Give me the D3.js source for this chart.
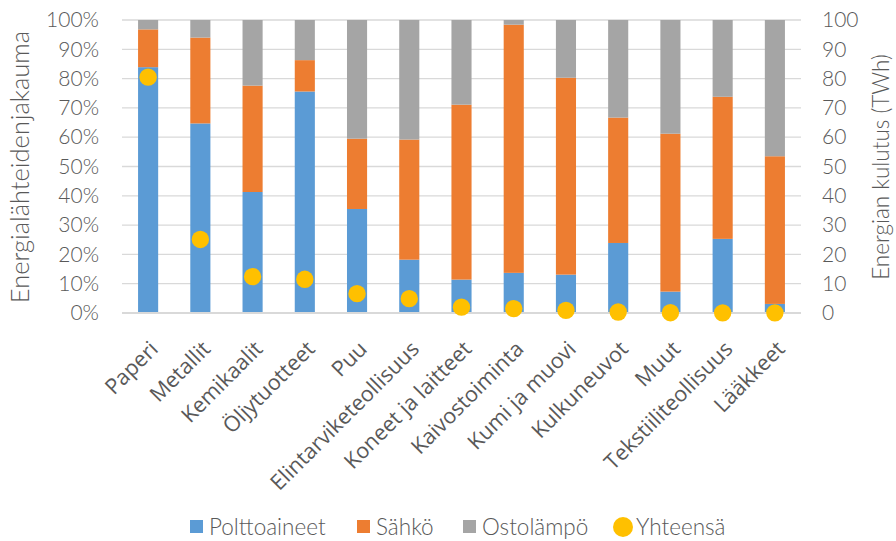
<!DOCTYPE html>
<html>
<head>
<meta charset="utf-8">
<script src="https://cdn.jsdelivr.net/npm/d3@7"></script>
<style>
  body { margin: 0; background: #fff; }
  svg text { font-family: Lato, "Open Sans", sans-serif; fill: #595959; font-weight: 300; }
  svg text.cat { font-family: "Open Sans", Lato, sans-serif; font-weight: 400; }
</style>
</head>
<body>
<script>
// categories and values
var categories = ["Paperi", "Metallit", "Kemikaalit", "Öljytuotteet", "Puu",
  "Elintarviketeollisuus", "Koneet ja laitteet", "Kaivostoiminta", "Kumi ja muovi",
  "Kulkuneuvot", "Muut", "Tekstiiliteollisuus", "Lääkkeet"];
// shares, percent
var polttoaineet = [83.9, 64.7, 41.3, 75.6, 35.5, 18.2, 11.4, 13.7, 13.1, 23.9, 7.3, 25.3, 3.1];
var sahko        = [12.9, 29.3, 36.3, 10.7, 24.0, 41.0, 59.7, 84.7, 67.2, 42.8, 53.9, 48.5, 50.4];
var ostolampo    = [3.2, 6.0, 22.4, 13.7, 40.5, 40.8, 28.9, 1.6, 19.7, 33.3, 38.8, 26.2, 46.5];
// total consumption, TWh
var yhteensa     = [80.5, 25.1, 12.4, 11.5, 6.6, 4.9, 2.0, 1.5, 0.9, 0.35, 0.1, 0.05, 0.05];

var leftTicks = [0, 10, 20, 30, 40, 50, 60, 70, 80, 90, 100];
var rightTicks = [0, 10, 20, 30, 40, 50, 60, 70, 80, 90, 100];

var seriesNames = ["Polttoaineet", "Sähkö", "Ostolämpö"];
var colors = ["#5B9BD5", "#ED7D31", "#A5A5A5"];
var dotColor = "#FFC000";

var W = 896, H = 541;
var plot = {left: 122, right: 801, top: 20, bottom: 313};

var svg = d3.select("body").append("svg")
    .attr("width", W)
    .attr("height", H);

var x = d3.scaleBand()
    .domain(categories)
    .range([plot.left, plot.right])
    .paddingInner(0.615)
    .paddingOuter(0.3075);

var yPct = d3.scaleLinear().domain([0, 100]).range([plot.bottom, plot.top]);
var yTwh = d3.scaleLinear().domain([0, 100]).range([plot.bottom, plot.top]);

// gridlines
svg.append("g").selectAll("line")
    .data(leftTicks.filter(function(d) { return d > 0; }))
    .enter().append("line")
    .attr("x1", plot.left).attr("x2", plot.right)
    .attr("y1", function(d) { return yPct(d); })
    .attr("y2", function(d) { return yPct(d); })
    .attr("stroke", "#D9D9D9")
    .attr("stroke-width", 1.3);

// build stacked data
var rows = categories.map(function(c, i) {
  return {cat: c, Polttoaineet: polttoaineet[i], "Sähkö": sahko[i], "Ostolämpö": ostolampo[i]};
});
var stack = d3.stack().keys(seriesNames)(rows);

svg.append("g").selectAll("g")
    .data(stack)
    .enter().append("g")
    .attr("fill", function(d, i) { return colors[i]; })
    .selectAll("rect")
    .data(function(d) { return d; })
    .enter().append("rect")
    .attr("x", function(d) { return x(d.data.cat); })
    .attr("width", x.bandwidth())
    .attr("y", function(d) { return yPct(d[1]); })
    .attr("height", function(d) { return yPct(d[0]) - yPct(d[1]); });

// bottom axis line
svg.append("line")
    .attr("x1", plot.left).attr("x2", plot.right)
    .attr("y1", plot.bottom).attr("y2", plot.bottom)
    .attr("stroke", "#D9D9D9")
    .attr("stroke-width", 2);

// total dots
svg.append("g").selectAll("circle")
    .data(yhteensa)
    .enter().append("circle")
    .attr("cx", function(d, i) { return x(categories[i]) + x.bandwidth() / 2; })
    .attr("cy", function(d) { return yTwh(d); })
    .attr("r", 8.7)
    .attr("fill", dotColor);

// left axis
var leftAxis = d3.axisLeft(yPct)
    .tickValues(leftTicks)
    .tickSize(0)
    .tickPadding(23)
    .tickFormat(function(d) { return d + "%"; });
var gl = svg.append("g")
    .attr("transform", "translate(" + plot.left + ",0)")
    .call(leftAxis);
gl.select(".domain").remove();
gl.selectAll("text").style("font-size", "21px").style("fill", "#595959");

// right axis
var rightAxis = d3.axisRight(yTwh)
    .tickValues(rightTicks)
    .tickSize(0)
    .tickPadding(21);
var gr = svg.append("g")
    .attr("transform", "translate(" + plot.right + ",0)")
    .call(rightAxis);
gr.select(".domain").remove();
gr.selectAll("text").style("font-size", "21px").style("fill", "#595959");

// category labels, rotated
svg.append("g").selectAll("text")
    .data(categories)
    .enter().append("text")
    .attr("class", "cat")
    .attr("transform", function(d) {
      return "translate(" + (x(d) + x.bandwidth() / 2 + 6) + "," + (plot.bottom + 32) + ") rotate(-45)";
    })
    .attr("text-anchor", "end")
    .attr("dy", "0.35em")
    .style("font-size", "21.5px")
    .text(function(d) { return d; });

// axis titles
svg.append("text")
    .attr("transform", "translate(29,167) rotate(-90)")
    .attr("text-anchor", "middle")
    .style("font-size", "25.5px")
    .style("word-spacing", "-6px")
    .text("Energialähteiden jakauma");

svg.append("text")
    .attr("transform", "translate(889,167) rotate(-90)")
    .attr("text-anchor", "middle")
    .style("font-size", "22.5px")
    .text("Energian kulutus (TWh)");

// legend
var legend = [
  {name: "Polttoaineet", x: 190, color: colors[0], shape: "rect"},
  {name: "Sähkö", x: 357, color: colors[1], shape: "rect"},
  {name: "Ostolämpö", x: 463, color: colors[2], shape: "rect"},
  {name: "Yhteensä", x: 613, color: dotColor, shape: "circle"}
];
var lg = svg.append("g").selectAll("g")
    .data(legend)
    .enter().append("g")
    .attr("transform", function(d) { return "translate(" + d.x + ",527)"; });
lg.filter(function(d) { return d.shape === "rect"; })
    .append("rect")
    .attr("x", 0).attr("y", -7)
    .attr("width", 13).attr("height", 13)
    .attr("fill", function(d) { return d.color; });
lg.filter(function(d) { return d.shape === "circle"; })
    .append("circle")
    .attr("cx", 10).attr("cy", 0).attr("r", 10)
    .attr("fill", function(d) { return d.color; });
lg.append("text")
    .attr("x", function(d) { return d.shape === "rect" ? 19 : 23; })
    .attr("dy", "0.35em")
    .style("font-size", "22.5px")
    .text(function(d) { return d.name; });
</script>
</body>
</html>
